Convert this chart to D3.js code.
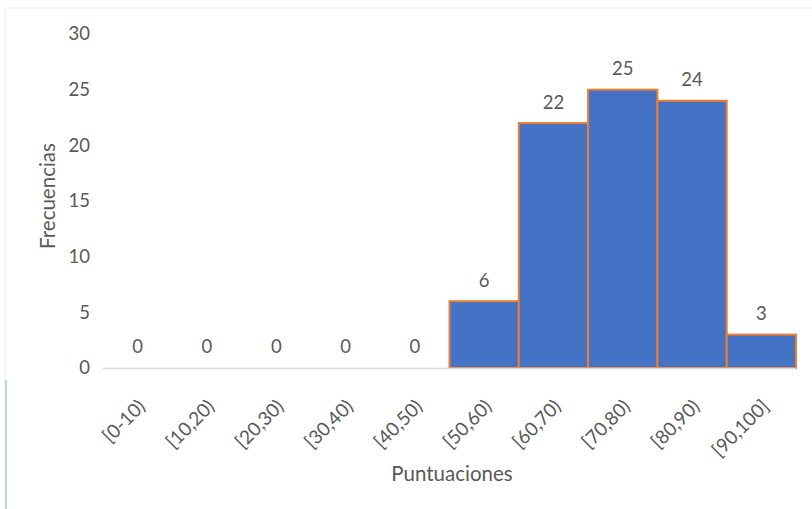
<!DOCTYPE html>
<html>
<head>
<meta charset="utf-8">
<script src="https://cdn.jsdelivr.net/npm/d3@7"></script>
<style>
  body { margin: 0; background: #fff; }
  text { font-family: Lato, "Open Sans", sans-serif; fill: #595959; }
</style>
</head>
<body>
<div id="chart"></div>
<script>
const categories = ["[0-10)", "[10,20)", "[20,30)", "[30,40)", "[40,50)", "[50,60)", "[60,70)", "[70,80)", "[80,90)", "[90,100]"];
const frequencies = [0, 0, 0, 0, 0, 6, 22, 25, 24, 3];
const yTicks = [0, 5, 10, 15, 20, 25, 30];

const width = 812, height = 509;
const margin = {top: 34, right: 16, bottom: 141, left: 103};

const svg = d3.select("#chart").append("svg")
    .attr("width", width)
    .attr("height", height);

// faint chart area border
svg.append("path")
    .attr("d", `M5,${height} L5,8 L${width},8`)
    .attr("fill", "none")
    .attr("stroke", "#e8ebf2")
    .attr("stroke-width", 1);
svg.append("line")
    .attr("x1", 6).attr("x2", 6)
    .attr("y1", 380).attr("y2", height)
    .attr("stroke", "#c0d0ec")
    .attr("stroke-width", 2);

const x = d3.scaleBand()
    .domain(categories)
    .range([margin.left, width - margin.right])
    .padding(0);

const y = d3.scaleLinear()
    .domain([0, 30])
    .range([height - margin.bottom, margin.top]);

// y axis labels
svg.append("g")
    .selectAll("text")
    .data(yTicks)
    .enter()
    .append("text")
        .attr("x", 90)
        .attr("y", d => y(d))
        .attr("dy", "0.35em")
        .attr("text-anchor", "end")
        .attr("font-size", 18.5)
        .text(d => d);

// bars
svg.append("g")
    .selectAll("rect")
    .data(frequencies)
    .enter()
    .append("rect")
        .attr("x", (d, i) => x(categories[i]))
        .attr("y", d => y(d))
        .attr("width", x.bandwidth())
        .attr("height", d => y(0) - y(d))
        .attr("fill", "#4472C4")
        .attr("stroke", "#ED7D31")
        .attr("stroke-width", 2)
        .attr("display", d => d > 0 ? null : "none");

// baseline
svg.append("line")
    .attr("x1", margin.left)
    .attr("x2", width - margin.right)
    .attr("y1", y(0) + 0.5)
    .attr("y2", y(0) + 0.5)
    .attr("stroke", "#d9d9d9")
    .attr("stroke-width", 1.5);

// data labels
svg.append("g")
    .selectAll("text")
    .data(frequencies)
    .enter()
    .append("text")
        .attr("x", (d, i) => x(categories[i]) + x.bandwidth() / 2)
        .attr("y", d => y(d) - 21)
        .attr("dy", "0.35em")
        .attr("text-anchor", "middle")
        .attr("font-size", 18.5)
        .text(d => d);

// x labels rotated
svg.append("g")
    .selectAll("text")
    .data(categories)
    .enter()
    .append("text")
        .attr("transform", d => `translate(${x(d) + x.bandwidth() / 2 + 4}, ${y(0) + 35}) rotate(-45)`)
        .attr("text-anchor", "end")
        .attr("dy", "0.35em")
        .attr("font-size", 19)
        .text(d => d);

// axis titles
svg.append("text")
    .attr("x", 452)
    .attr("y", 474)
    .attr("dy", "0.35em")
    .attr("text-anchor", "middle")
    .attr("font-size", 20.5)
    .text("Puntuaciones");

svg.append("text")
    .attr("transform", `translate(48, ${(y(0) + y(30)) / 2 - 5}) rotate(-90)`)
    .attr("dy", "0.35em")
    .attr("text-anchor", "middle")
    .attr("font-size", 20.5)
    .text("Frecuencias");
</script>
</body>
</html>
